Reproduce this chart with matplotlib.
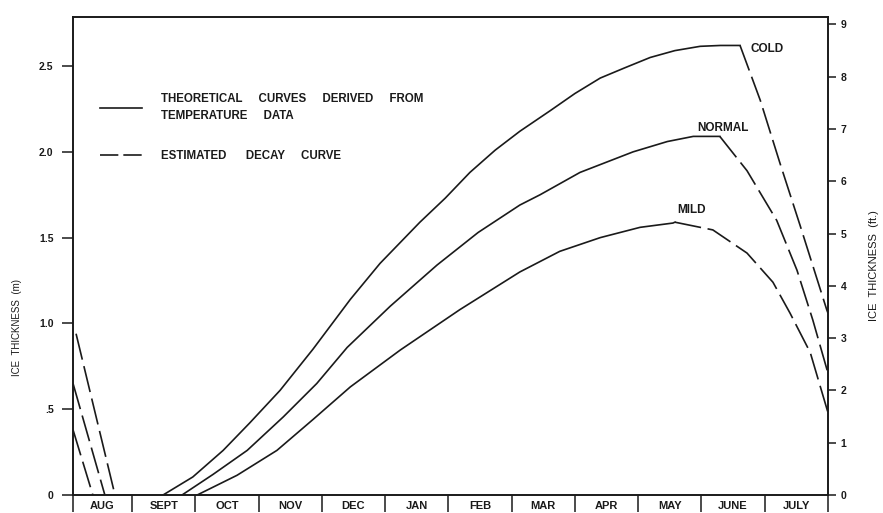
import matplotlib
matplotlib.use("Agg")
import matplotlib.pyplot as plt
from matplotlib.lines import Line2D

plt.rcParams['font.family'] = ['Liberation Sans', 'DejaVu Sans']
plt.rcParams['font.weight'] = 'bold'

# month index: AUG starts at 0, SEPT at 1, ... JULY ends at 12
months = ["AUG", "SEPT", "OCT", "NOV", "DEC", "JAN", "FEB", "MAR", "APR", "MAY", "JUNE", "JULY"]
month_pos = [0.53, 1.5, 2.5, 3.5, 4.5, 5.5, 6.5, 7.5, 8.5, 9.5, 10.5, 11.5]
month_edges = [0.067, 1, 2, 3, 4, 5, 6, 7, 8, 9, 10, 11, 12]

# theoretical growth curves (m)
cold_x = [1.49, 1.96, 2.44, 2.86, 3.34, 3.86, 4.45, 4.92, 5.55, 5.95, 6.34, 6.74,
          7.13, 7.61, 8.00, 8.40, 8.79, 9.19, 9.58, 9.98, 10.30, 10.61]
cold_y = [0.0, 0.105, 0.26, 0.42, 0.61, 0.85, 1.14, 1.35, 1.59, 1.73, 1.88, 2.01,
          2.12, 2.24, 2.34, 2.43, 2.49, 2.55, 2.59, 2.615, 2.62, 2.62]
normal_x = [1.79, 2.28, 2.82, 3.39, 3.92, 4.40, 5.08, 5.82, 6.47, 7.13, 7.45, 8.08,
            8.92, 9.46, 9.87, 10.29]
normal_y = [0.0, 0.12, 0.26, 0.455, 0.65, 0.86, 1.10, 1.34, 1.53, 1.69, 1.75, 1.88,
            2.00, 2.06, 2.09, 2.09]
mild_x = [2.03, 2.66, 3.29, 3.86, 4.45, 5.24, 6.18, 7.13, 7.76, 8.40, 9.03, 9.55, 9.58]
mild_y = [0.0, 0.115, 0.26, 0.44, 0.63, 0.845, 1.08, 1.30, 1.42, 1.50, 1.56, 1.585, 1.59]

# estimated decay curves (m)
cold_decay_x = [10.61, 10.93, 11.24, 11.56, 11.98, 12.0]
cold_decay_y = [2.62, 2.30, 1.935, 1.57, 1.08, 1.06]
normal_decay_x = [10.29, 10.72, 11.19, 11.51, 11.76, 12.0]
normal_decay_y = [2.09, 1.89, 1.60, 1.31, 1.02, 0.71]
mild_decay_x = [9.58, 10.18, 10.72, 11.13, 11.40, 11.72, 12.0]
mild_decay_y = [1.59, 1.545, 1.41, 1.24, 1.06, 0.83, 0.48]

# previous season decay in August (m)
aug_cold_x = [0.115, 0.73]
aug_cold_y = [0.94, 0.0]
aug_normal_x = [0.067, 0.57]
aug_normal_y = [0.65, 0.0]
aug_mild_x = [0.067, 0.38]
aug_mild_y = [0.38, 0.0]

m_ticks = [0, 0.5, 1.0, 1.5, 2.0, 2.5]
m_labels = ["0", ".5", "1.0", "1.5", "2.0", "2.5"]
ft_ticks = list(range(10))

ymax = 2.786
ink = "#1a1a1a"
lw = 1.2
dash = (0, (16, 4))

fig = plt.figure(figsize=(8.83, 5.13), dpi=100)
ax = fig.add_axes([0.0827, 0.0351, 0.855, 0.9318])

for x, y in [(cold_x, cold_y), (normal_x, normal_y), (mild_x, mild_y)]:
    ax.plot(x, y, color=ink, lw=lw)
for x, y in [(cold_decay_x, cold_decay_y), (normal_decay_x, normal_decay_y),
             (mild_decay_x, mild_decay_y), (aug_cold_x, aug_cold_y),
             (aug_normal_x, aug_normal_y), (aug_mild_x, aug_mild_y)]:
    ax.plot(x, y, color=ink, lw=lw, linestyle=dash)

ax.set_xlim(month_edges[0], month_edges[-1])
ax.set_ylim(0, ymax)

ax.set_xticks(month_edges)
ax.set_xticklabels([])
ax.tick_params(axis='x', which='major', direction='out', length=12, width=1.1, color=ink)
ax.set_xticks(month_pos, minor=True)
ax.set_xticklabels(months, minor=True, fontsize=8, color=ink)
ax.tick_params(axis='x', which='minor', length=0, pad=4)

ax.set_yticks(m_ticks)
ax.set_yticklabels(m_labels, fontsize=7.5, color=ink)
ax.tick_params(axis='y', direction='out', length=8, width=1.1, color=ink, pad=6)
ax.set_ylabel("ICE  THICKNESS  (m)", fontsize=7, color=ink)
ax.yaxis.set_label_coords(-0.068, 0.35)

for s in ax.spines.values():
    s.set_linewidth(1.2)
    s.set_color(ink)

ax2 = ax.twinx()
ax2.set_ylim(0, ymax / 0.3048)
ax2.set_yticks(ft_ticks)
ax2.set_yticklabels([str(t) for t in ft_ticks], fontsize=7.5, color=ink)
ax2.tick_params(axis='y', direction='out', length=6, width=1.1, color=ink, pad=3)
ax2.set_ylabel("ICE  THICKNESS  (ft.)", fontsize=8, color=ink, rotation=90)
ax2.yaxis.set_label_coords(1.054, 0.48)
for s in ax2.spines.values():
    s.set_linewidth(1.2)
    s.set_color(ink)

ax.text(10.78, 2.60, "COLD", fontsize=8.5, color=ink, va='center')
ax.text(9.93, 2.14, "NORMAL", fontsize=8.5, color=ink, va='center')
ax.text(9.61, 1.66, "MILD", fontsize=8.5, color=ink, va='center')

handles = [Line2D([], [], color=ink, lw=lw),
           Line2D([], [], color=ink, lw=lw, linestyle=(0, (11, 3)))]
labels = ["THEORETICAL     CURVES     DERIVED     FROM\nTEMPERATURE     DATA",
          "ESTIMATED      DECAY     CURVE"]
leg = ax.legend(handles, labels, loc='upper left', bbox_to_anchor=(0.036, 0.84),
                frameon=False, fontsize=8.3, handlelength=3.6, handletextpad=1.7,
                labelspacing=2.5, borderpad=0, borderaxespad=0, labelcolor=ink)
for t in leg.get_texts():
    t.set_linespacing(1.45)

fig.savefig("out.png", dpi=100)
